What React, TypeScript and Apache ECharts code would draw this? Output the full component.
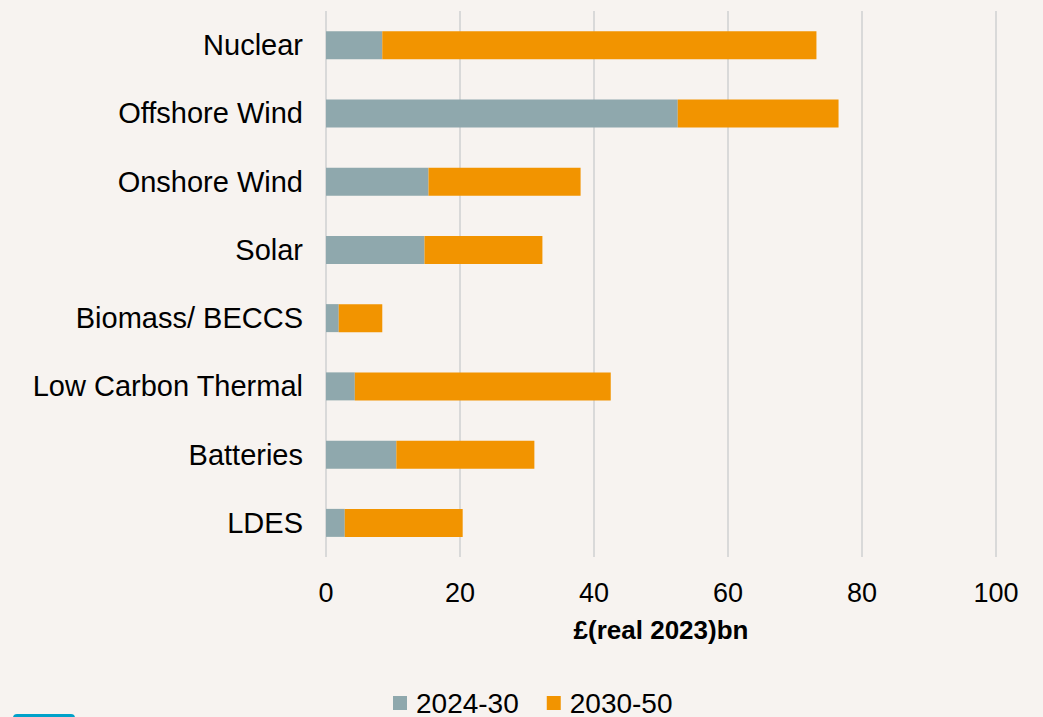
import React, { useEffect, useRef } from "react";
import * as echarts from "echarts";

const categories = [
  "Nuclear",
  "Offshore Wind",
  "Onshore Wind",
  "Solar",
  "Biomass/ BECCS",
  "Low Carbon Thermal",
  "Batteries",
  "LDES",
];
const seriesNames = ["2024-30", "2030-50"];
const values2024_30 = [8.4, 52.5, 15.3, 14.7, 1.9, 4.3, 10.5, 2.8];
const values2030_50 = [64.8, 24.0, 22.7, 17.6, 6.5, 38.2, 20.6, 17.6];
const xTicks = { min: 0, max: 100, interval: 20 };
const axisTitle = "£(real 2023)bn";

export default function App() {
  const ref = useRef<HTMLDivElement>(null);
  useEffect(() => {
    if (!ref.current) return;
    const chart = echarts.init(ref.current, null, { renderer: "svg" });
    const font = "'Liberation Sans', Arial, sans-serif";
    chart.setOption({
      animation: false,
      backgroundColor: "#F7F3F0",
      textStyle: { fontFamily: font },
      grid: { left: 326, right: 47, top: 11, height: 546, containLabel: false },
      legend: {
        data: seriesNames,
        left: 388,
        top: 684,
        itemWidth: 14,
        itemHeight: 14,
        itemGap: 28,
        icon: "rect",
        textStyle: { fontSize: 28, color: "#000", fontFamily: font, padding: [0, 0, 0, 4] },
      },
      xAxis: {
        type: "value",
        min: xTicks.min,
        max: xTicks.max,
        interval: xTicks.interval,
        axisLine: { show: false },
        axisTick: { show: false },
        axisLabel: { fontSize: 27, color: "#000", margin: 22, fontFamily: font },
        splitLine: { show: true, lineStyle: { color: "#D9D9D9", width: 2 } },
        name: axisTitle,
        nameLocation: "middle",
        nameGap: 60,
        nameTextStyle: { fontSize: 26, fontWeight: "bold", color: "#000", fontFamily: font },
      },
      yAxis: {
        type: "category",
        data: categories,
        inverse: true,
        axisLine: { show: false },
        axisTick: { show: false },
        axisLabel: { fontSize: 29, color: "#000", margin: 23, fontFamily: font },
        splitLine: { show: false },
      },
      series: [
        {
          name: seriesNames[0],
          type: "bar",
          stack: "total",
          data: values2024_30,
          barWidth: 28,
          itemStyle: { color: "#8FA8AD" },
        },
        {
          name: seriesNames[1],
          type: "bar",
          stack: "total",
          data: values2030_50,
          barWidth: 28,
          itemStyle: { color: "#F29400" },
        },
      ],
      graphic: [
        {
          type: "rect",
          left: 13,
          top: 714,
          shape: { width: 62, height: 20, r: 4 },
          style: { fill: "#00A1C9" },
        },
      ],
    });
    return () => chart.dispose();
  }, []);
  return (
    <div
      ref={ref}
      style={{ position: "fixed", left: 0, top: 0, width: 1043, height: 717 }}
    />
  );
}
